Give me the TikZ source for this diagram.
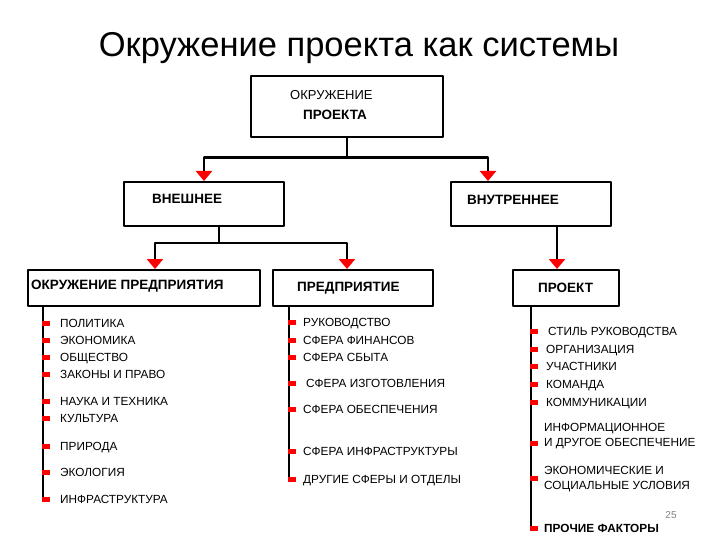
\documentclass[tikz,border=0pt]{standalone}
\usepackage{fontspec}
\setmainfont{Liberation Sans}
\usetikzlibrary{arrows.meta}
\tikzset{
	box/.style={draw, line width=2.4pt, inner sep=0pt, anchor=north west},
	head/.style={anchor=base west, inner sep=0pt, font=\fontsize{13.5}{16}\selectfont\bfseries},
	item/.style={anchor=base west, inner sep=0pt, font=\fontsize{11.8}{14}\selectfont},
	bullet/.style={fill=red, minimum width=8pt, minimum height=5pt, inner sep=0pt, anchor=west},
	link/.style={line width=2.4pt, -{Triangle[width=16pt,length=10pt,fill=red,color=red]}},
	trunk/.style={line width=2.4pt},
}
\begin{document}
\begin{tikzpicture}[x=1pt, y=-1pt, line join=round]
	%Рамка рисунка.
	\useasboundingbox (0,0) rectangle (720,540);
	%Заголовок.
	\node[anchor=base, inner sep=0pt, font=\fontsize{34.5}{40}\selectfont] (title) at (359,57) {Окружение проекта как системы};
	%Блоки.
	\node[box, minimum width=192pt, minimum height=61pt] (env) at (250,75) {};
	\node[box, minimum width=160pt, minimum height=44pt] (ext) at (123,181) {};
	\node[box, minimum width=160pt, minimum height=44pt] (int) at (450,181) {};
	\node[box, minimum width=232pt, minimum height=36pt] (ent) at (27,269) {};
	\node[box, minimum width=160pt, minimum height=36pt] (firm) at (272,269) {};
	\node[box, minimum width=106pt, minimum height=36pt] (proj) at (512,269) {};
	%Надписи блоков.
	\node[head, font=\fontsize{13}{15}\selectfont] (envA) at (290,100) {ОКРУЖЕНИЕ};
	\node[head] (envB) at (303,120) {ПРОЕКТА};
	\node[head] (extT) at (152,204) {ВНЕШНЕЕ};
	\node[head] (intT) at (467,205) {ВНУТРЕННЕЕ};
	\node[head] (entT) at (31,289) {ОКРУЖЕНИЕ ПРЕДПРИЯТИЯ};
	\node[head] (firmT) at (297,291) {ПРЕДПРИЯТИЕ};
	\node[head] (projT) at (538,292) {ПРОЕКТ};
	%Точки входа и выхода стрелок.
	\coordinate (extIn) at (204,181);
	\coordinate (intIn) at (488,181);
	\coordinate (extOut) at (219,225);
	\coordinate (entIn) at (155,269);
	\coordinate (firmIn) at (347,269);
	\coordinate (intOut) at (557,225);
	\coordinate (projIn) at (557,269);
	%Стрелки.
	\draw[link] (env.south) -- ++(0,19) -| (extIn);
	\draw[link] (env.south) -- ++(0,19) -| (intIn);
	\draw[link] (extOut) -- ++(0,18) -| (entIn);
	\draw[link] (extOut) -- ++(0,18) -| (firmIn);
	\draw[link] (intOut) -- (projIn);
	%Списки.
	\coordinate (entL) at (43,305);
	\coordinate (firmL) at (289,305);
	\coordinate (projL) at (531,305);
	\draw[trunk] (entL) -- ++(0,196);
	\draw[trunk] (firmL) -- ++(0,177);
	\draw[trunk] (projL) -- ++(0,225);
	\foreach \y/\t [count=\i] in {323/ПОЛИТИКА, 340/ЭКОНОМИКА, 357/ОБЩЕСТВО, 374/ЗАКОНЫ И ПРАВО, 401/НАУКА И ТЕХНИКА, 418/КУЛЬТУРА, 446/ПРИРОДА, 472/ЭКОЛОГИЯ, 499/ИНФРАСТРУКТУРА}{
		\node[bullet] (entB\i) at (42,\y) {};
		\node[item] (entI\i) at (60,\y+4) {\t};
	}
	\foreach \y/\x/\t [count=\i] in {322/303/РУКОВОДСТВО, 340/303/СФЕРА ФИНАНСОВ, 357/303/СФЕРА СБЫТА, 383/306/СФЕРА ИЗГОТОВЛЕНИЯ, 409/303/СФЕРА ОБЕСПЕЧЕНИЯ, 451/303/СФЕРА ИНФРАСТРУКТУРЫ, 479/303/ДРУГИЕ СФЕРЫ И ОТДЕЛЫ}{
		\node[bullet] (firmB\i) at (288,\y) {};
		\node[item] (firmI\i) at (\x,\y+4) {\t};
	}
	\foreach \y/\x/\t [count=\i] in {331/548/СТИЛЬ РУКОВОДСТВА, 349/546/ОРГАНИЗАЦИЯ, 366/546/УЧАСТНИКИ, 384/546/КОМАНДА, 402/546/КОММУНИКАЦИИ}{
		\node[bullet] (projB\i) at (530,\y) {};
		\node[item] (projI\i) at (\x,\y+4) {\t};
	}
	\node[bullet] (projB6) at (530,443) {};
	\node[item, anchor=north west, align=left, font=\fontsize{11.8}{15}\selectfont] (projI6) at (544,423) {ИНФОРМАЦИОННОЕ\\И ДРУГОЕ ОБЕСПЕЧЕНИЕ};
	\node[bullet] (projB7) at (530,478) {};
	\node[item, anchor=north west, align=left, font=\fontsize{11.8}{15}\selectfont] (projI7) at (544,466) {ЭКОНОМИЧЕСКИЕ И\\СОЦИАЛЬНЫЕ УСЛОВИЯ};
	\node[bullet] (projB8) at (530,528) {};
	\node[item, font=\fontsize{11.8}{14}\selectfont\bfseries] (projI8) at (544,532) {ПРОЧИЕ ФАКТОРЫ};
	%Номер слайда.
	\node[text=gray, font=\fontsize{10}{12}\selectfont] (pnum) at (671,515) {25};
\end{tikzpicture}
\end{document}
